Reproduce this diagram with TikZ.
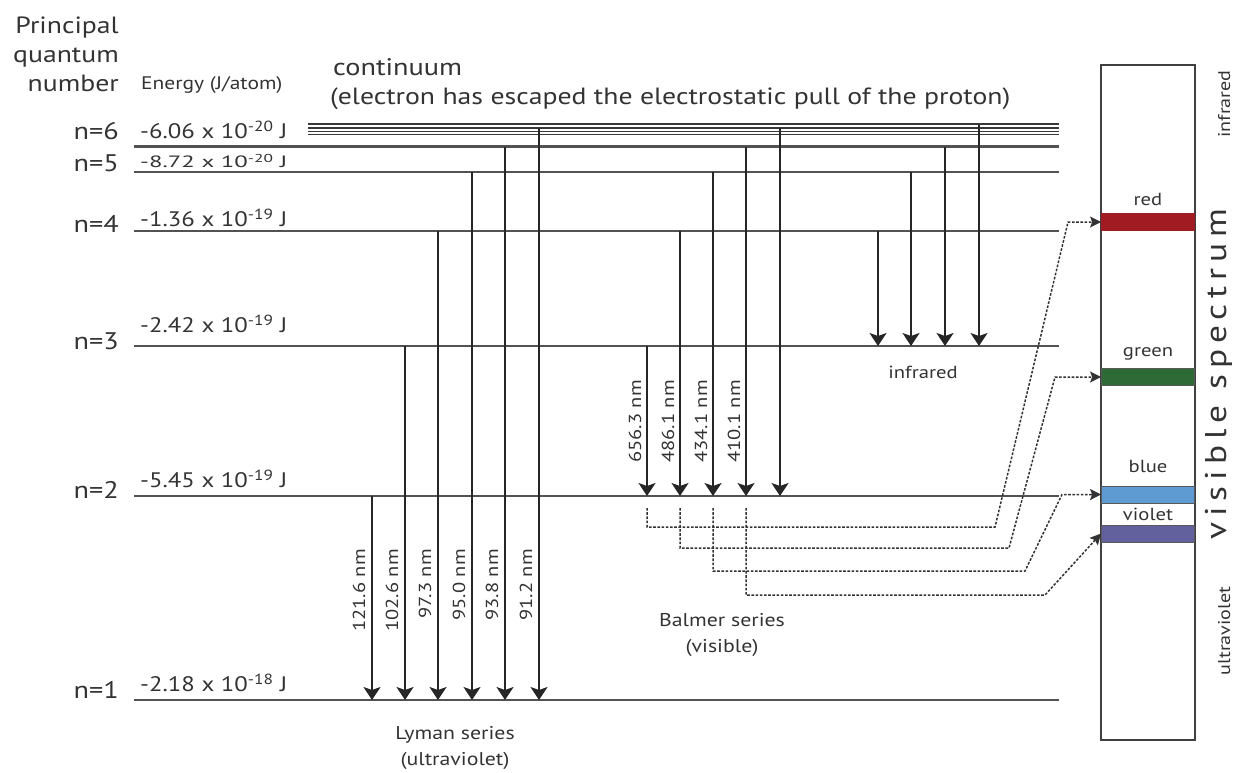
\documentclass[tikz,border=0pt]{standalone}
\usepackage{fontspec}
\usepackage{graphicx}
\setmainfont{PT Sans}[FakeStretch=1.18]
\usetikzlibrary{arrows.meta}
\definecolor{txt}{HTML}{333333}
\definecolor{redband}{HTML}{A11B22}
\definecolor{greenband}{HTML}{2E6A36}
\definecolor{blueband}{HTML}{5F9BD3}
\definecolor{violetband}{HTML}{62619E}
\begin{document}
\begin{tikzpicture}[x=1pt,y=-1pt,
  level/.style={line width=2.3pt, draw=black!68},
  trans/.style={line width=1.7pt, draw=black!85, -{Stealth[length=13pt,width=17pt,inset=3pt]}},
  link/.style={line width=1.5pt, draw=black!80, dash pattern=on 2.6pt off 1.6pt, -{Stealth[length=11pt,width=11pt,inset=2pt]}},
  big/.style={text=txt, font=\fontsize{24}{28.5}\selectfont, inner sep=0pt},
  mid/.style={text=txt, font=\fontsize{21}{24}\selectfont, inner sep=0pt},
  wl/.style={text=txt, font=\fontsize{17.4}{20}\selectfont, inner sep=0pt, rotate=90, anchor=east},
  serlab/.style={text=txt, font=\fontsize{18.5}{26}\selectfont, inner sep=0pt},
  band/.style={draw=black!65, line width=0.8pt, minimum width=93pt, minimum height=17pt, inner sep=0pt},
  bandlab/.style={text=txt, font=\fontsize{17.5}{20}\selectfont, inner sep=0pt},
  side/.style={text=txt, font=\fontsize{17}{20}\selectfont, inner sep=0pt, rotate=90, anchor=base},
]
\useasboundingbox (0,0) rectangle (1236,772);

% headings
\node[big, font=\fontsize{23.5}{29}\selectfont, align=right, anchor=east] (pqn) at (119,54) {Principal\\quantum\\number};
\node[text=txt, font=\fontsize{18.2}{21}\selectfont, inner sep=0pt, anchor=west] (energy) at (141,85) {Energy (J/atom)};
\node[big, anchor=west] (cont) at (333,67) {continuum};
\node[big, font=\fontsize{23.5}{28}\selectfont, anchor=west] (contexp) at (330,99) {(electron has escaped the electrostatic pull of the proton)};

% continuum lines
\foreach \k/\yy in {a/124,b/127.8,c/131.3,d/134.6}{
  \coordinate (c\k l) at (308,\yy);
  \coordinate (c\k r) at (1059,\yy);
  \draw[line width=1.5pt, draw=black!78] (c\k l) -- (c\k r);
}

% levels
\foreach \n/\yy in {1/700,2/496,3/346,4/231,5/172,6/146.5}{
  \coordinate (n\n l) at (134,\yy);
  \coordinate (n\n r) at (1059,\yy);
  \draw[level] (n\n l) -- (n\n r);
}

% level labels
\node[big, anchor=east] (q6) at (119,131) {n=6};
\node[big, anchor=east] (q5) at (119,163) {n=5};
\node[big, anchor=east] (q4) at (119,224) {n=4};
\node[big, anchor=east] (q3) at (119,341) {n=3};
\node[big, anchor=east] (q2) at (119,490) {n=2};
\node[big, anchor=east] (q1) at (119,690) {n=1};

\node[mid, anchor=west] (e6) at (140,130) {-6.06 x 10\textsuperscript{-20} J};
\node[mid, anchor=west] (e5) at (140,161) {\scalebox{1}[0.78]{-8.72 x 10\textsuperscript{-20} J}};
\node[mid, anchor=west] (e4) at (140,218) {-1.36 x 10\textsuperscript{-19} J};
\node[mid, anchor=west] (e3) at (140,324) {-2.42 x 10\textsuperscript{-19} J};
\node[mid, anchor=west] (e2) at (140,479) {-5.45 x 10\textsuperscript{-19} J};
\node[mid, anchor=west] (e1) at (140,683) {-2.18 x 10\textsuperscript{-18} J};

% Lyman
\foreach \i/\x/\ys/\lab in {1/372/496/121.6 nm,2/405/346/102.6 nm,3/438/231/97.3 nm,4/472/172/95.0 nm,5/505/146.5/93.8 nm,6/539/128/91.2 nm}{
  \coordinate (ly\i s) at (\x,\ys);
  \coordinate (ly\i e) at (\x,700);
  \draw[trans] (ly\i s) -- (ly\i e);
  \node[wl] (lyl\i) at ([xshift=-13pt]\x,549) {\lab};
}
% Balmer
\foreach \i/\x/\ys/\lab in {1/647/346/656.3 nm,2/680/231/486.1 nm,3/713/172/434.1 nm,4/746/146.5/410.1 nm}{
  \coordinate (ba\i s) at (\x,\ys);
  \coordinate (ba\i e) at (\x,496);
  \draw[trans] (ba\i s) -- (ba\i e);
  \node[wl] (bal\i) at ([xshift=-12pt]\x,380) {\lab};
}
\coordinate (ba5s) at (780,128);
\coordinate (ba5e) at (780,496);
\draw[trans] (ba5s) -- (ba5e);
% Paschen
\foreach \i/\x/\ys in {1/878/231,2/911/172,3/945/146.5,4/979/125}{
  \coordinate (pa\i s) at (\x,\ys);
  \coordinate (pa\i e) at (\x,346);
  \draw[trans] (pa\i s) -- (pa\i e);
}

% series labels
\node[serlab, font=\fontsize{17.5}{20}\selectfont] (ir) at (923,372) {infrared};
\node[serlab, align=center] (balmer) at (722,635) {Balmer series\\(visible)};
\node[serlab, align=center] (lyman) at (455,748) {Lyman series\\(ultraviolet)};

% spectrum
\node[draw=black!75, line width=1.5pt, minimum width=94pt, minimum height=675pt, inner sep=0pt] (spec) at (1148,402.5) {};
\node[band, fill=redband, draw=redband] (red) at (1148,222) {};
\node[band, fill=greenband] (green) at (1148,377) {};
\node[band, fill=blueband] (blue) at (1148,494.5) {};
\node[band, fill=violetband] (violet) at (1148,533.5) {};
\node[bandlab] (redl) at (1148,199) {red};
\node[bandlab] (greenl) at (1148,354) {green};
\node[bandlab] (bluel) at (1148,466) {blue};
\node[bandlab] (violetl) at (1148,514) {violet};
\node[side] (sir) at (1230,104) {infrared};
\node[side] (suv) at (1230,631) {ultraviolet};
\node[text=txt, font=\fontsize{30}{34}\selectfont\addfontfeature{LetterSpace=20}, inner sep=0pt, rotate=90, anchor=base] (svis) at (1226,374) {visible spectrum};

% dashed links
\coordinate (d1a) at (647,508); \coordinate (d1b) at (995,527); \coordinate (d1c) at (1068,222);
\coordinate (d2a) at (680,508); \coordinate (d2b) at (1009,548); \coordinate (d2c) at (1055,377);
\coordinate (d3a) at (713,508); \coordinate (d3b) at (1025,571); \coordinate (d3c) at (1062,494.5);
\coordinate (d4a) at (746,508); \coordinate (d4b) at (1045,595);
\draw[link] (d1a) |- (d1b) -- (d1c) -- (red.west);
\draw[link] (d2a) |- (d2b) -- (d2c) -- (green.west);
\draw[link] (d3a) |- (d3b) -- (d3c) -- (blue.west);
\draw[link] (d4a) |- (d4b) -- (violet.west);
\end{tikzpicture}
\end{document}
